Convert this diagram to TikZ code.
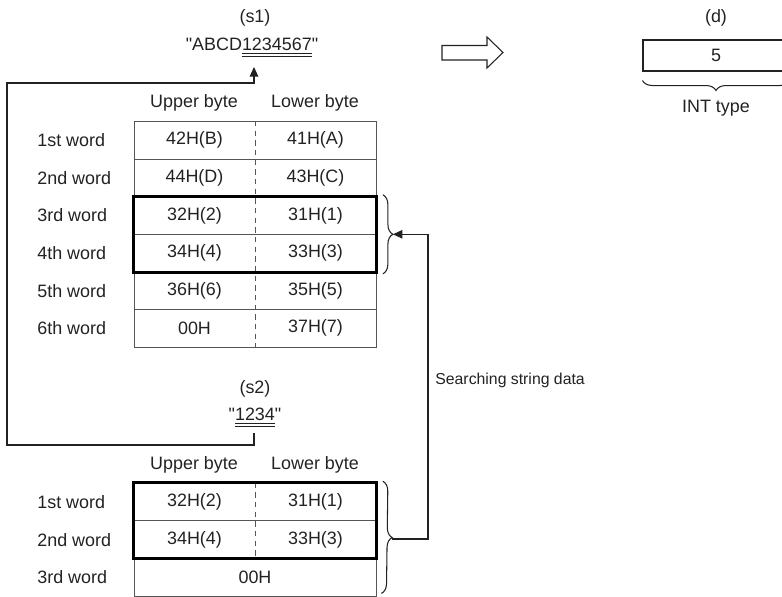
\documentclass[tikz,border=0pt]{standalone}
\usepackage{fontspec}
\setmainfont{Liberation Sans}
\newfontfamily\qfont{Liberation Sans}
\usetikzlibrary{arrows.meta,positioning,fit,calc,decorations.pathreplacing}
\definecolor{LineGray}{HTML}{555555}
\definecolor{TextDark}{HTML}{222222}
\newcommand\dq{{\qfont"}}
\newcommand\dblul[1]{\underline{\underline{#1}}}
\tikzset{
  wordrow/.style={rectangle,draw=LineGray,line width=0.5pt,minimum width=4.84cm,
                  minimum height=0.752cm,inner sep=0pt},
  cell/.style={font=\fontsize{10.2}{12}\selectfont,text=TextDark,inner sep=0pt},
  rowlab/.style={cell,anchor=west},
  hilite/.style={draw=black,line width=1.7pt,inner sep=0pt},
  midline/.style={draw=LineGray,line width=0.5pt,dash pattern=on 3pt off 2.5pt},
  brc/.style={decorate,decoration={brace,amplitude=0.2cm},draw=TextDark,line width=0.6pt},
  arr/.style={-{Triangle[length=0.19cm,width=0.17cm]},draw=TextDark,line width=0.6pt},
}

\begin{document}
\begin{tikzpicture}[x=0.02cm,y=-0.02cm]
  \useasboundingbox (0,0) rectangle (782,596);

  % source string (s1)
  \node[cell] (s1lab) at (255,18) {(s1)};
  \node[cell] (s1str) at (252,48) {\dq ABCD\dblul{1234567}\dq};

  % table of (s1)
  \node[cell] (hu1) at (194,103) {Upper byte};
  \node[cell] (hl1) at (315,103) {Lower byte};
  \foreach \i/\lab/\up/\lo in {1/1st/42H(B)/41H(A),2/2nd/44H(D)/43H(C),
                               3/3rd/32H(2)/31H(1),4/4th/34H(4)/33H(3),
                               5/5th/36H(6)/35H(5),6/6th/00H/37H(7)} {
    \node[wordrow] (t\i) at (255,{140.3+37.6*(\i-1)}) {};
    \node[cell] (tu\i) at ($(t\i.center)+(-60.5,0)$) {\up};
    \node[cell] (tl\i) at ($(t\i.center)+(60.5,0)$) {\lo};
    \node[rowlab] (tw\i) at (37,{140.3+37.6*(\i-1)}) {\lab\ word};
  }
  \draw[midline] (t1.north) -- (t6.south);
  \node[hilite,fit=(t3)(t4)] (tsel) {};
  \draw[brc] ($(tsel.north east)+(5,0)$) -- ($(tsel.south east)+(5,0)$);
  \coordinate (brA) at ($(tsel.east)+(15,0)$);

  % search string (s2)
  \node[cell] (s2lab) at (255,389) {(s2)};
  \node[cell] (s2str) at (255,418) {\dq\dblul{1234}\dq};

  % table of (s2)
  \node[cell] (hu2) at (194,465) {Upper byte};
  \node[cell] (hl2) at (315,465) {Lower byte};
  \foreach \i/\lab/\up/\lo in {1/1st/32H(2)/31H(1),2/2nd/34H(4)/33H(3)} {
    \node[wordrow] (b\i) at (255,{502+37.6*(\i-1)}) {};
    \node[cell] (bu\i) at ($(b\i.center)+(-60.5,0)$) {\up};
    \node[cell] (bl\i) at ($(b\i.center)+(60.5,0)$) {\lo};
    \node[rowlab] (bw\i) at (37,{502+37.6*(\i-1)}) {\lab\ word};
  }
  \node[wordrow] (b3) at (255,577.2) {};
  \node[cell] (bm3) at (b3) {00H};
  \node[rowlab] (bw3) at (37,577.2) {3rd word};
  \draw[midline] (b1.north) -- (b2.south);
  \node[hilite,fit=(b1)(b2)] (bsel) {};
  \draw[brc] ($(bsel.north east)+(5,0)$) -- ($(b3.south east)+(5,-3)$);
  \coordinate (brB) at (392,539);

  % search connector
  \coordinate (sx) at (428,380);
  \node[anchor=west,font=\fontsize{9}{11}\selectfont,text=TextDark,inner sep=0pt]
    (srch) at (435,380) {Searching string data};
  \draw[arr] (brB) -| (sx) |- (brA);

  % (s2) back to (s1)
  \coordinate (s1tip) at (254,67);
  \coordinate (s2foot) at (254,433);
  \coordinate (lpb) at (7,445);
  \coordinate (lpt) at (7,83);
  \draw[arr] (s2foot) |- (lpb) -- (lpt) -| (s1tip);

  % result arrow
  \draw[draw=TextDark,line width=0.6pt] (442,45.5) -- (487,45.5) -- (487,37)
    -- (503,52.5) -- (487,68) -- (487,60) -- (442,60) -- cycle;

  % result (d)
  \node[cell] (dlab) at (716,18) {(d)};
  \node[draw=TextDark,line width=0.6pt,minimum width=2.92cm,minimum height=0.62cm,
        font=\fontsize{10.2}{12}\selectfont,text=TextDark,inner sep=0pt]
    (dbox) at (716,55.5) {5};
  \draw[brc] ($(dbox.south east)+(0,9)$) -- ($(dbox.south west)+(0,9)$);
  \node[cell] (dtype) at (716,108) {INT type};
\end{tikzpicture}
\end{document}
